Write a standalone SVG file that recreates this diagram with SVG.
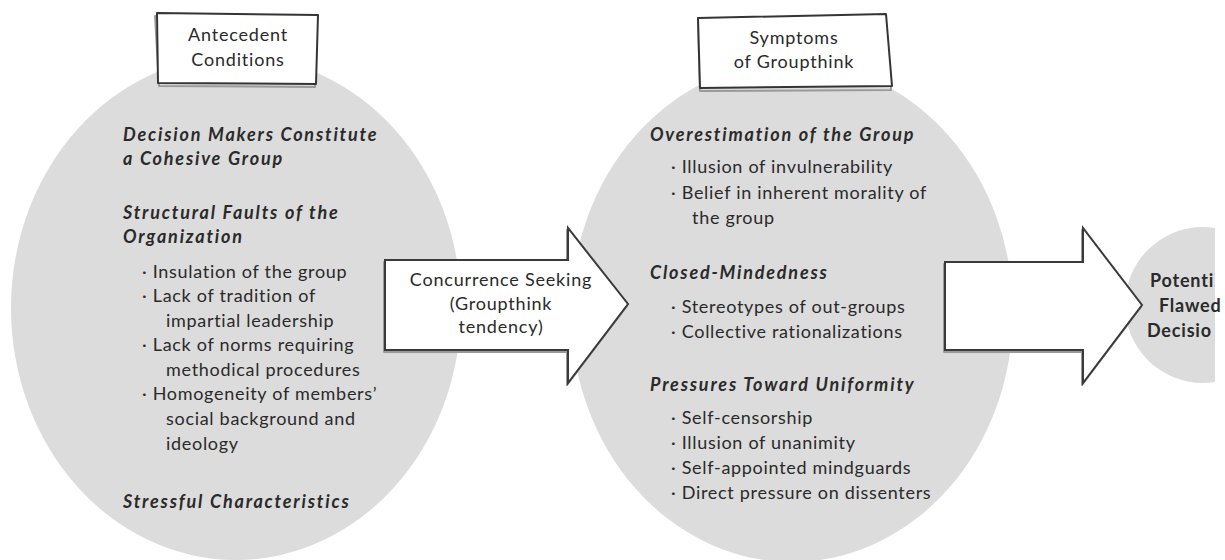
<svg xmlns="http://www.w3.org/2000/svg" width="1225" height="560" viewBox="0 0 1225 560">
<style>
  .ell { fill: #dcdcdc; }
  .box { fill: #ffffff; stroke: #353535; stroke-width: 2; stroke-linejoin: round; }
  .shadow { fill: none; stroke: #9a9a9a; stroke-width: 2; stroke-linejoin: round; }
  .arrow { fill: #ffffff; stroke: #3a3a3a; stroke-width: 2; stroke-linejoin: miter; }
  text { font-family: Lato, "Liberation Sans", sans-serif; fill: #2a2a2a; }
  .t { font-size: 18px; letter-spacing: 0.7px; }
  .h { font-size: 18px; font-weight: bold; font-style: italic; letter-spacing: 1.8px; }
  .c { text-anchor: middle; font-size: 18px; letter-spacing: 0.8px; }
  .b { font-size: 18px; font-weight: bold; letter-spacing: 0.8px; }
</style>
<defs>
  <clipPath id="edge"><rect x="0" y="0" width="1215" height="560"/></clipPath>
</defs>
<rect width="1225" height="560" fill="#ffffff"/>

<g id="antecedent">
  <ellipse class="ell" cx="236" cy="308" rx="225" ry="252"/>
  <polygon class="shadow" points="155,16 316,17 315,87 159,86"/>
  <polygon class="box" points="157,13 318,15 316,84 158,83"/>
  <text class="c" x="238" y="41">Antecedent</text>
  <text class="c" x="238" y="66">Conditions</text>
  <text class="h" x="123" y="141">Decision Makers Constitute</text>
  <text class="h" x="123" y="165">a Cohesive Group</text>
  <text class="h" x="123" y="219">Structural Faults of the</text>
  <text class="h" x="123" y="243">Organization</text>
  <text class="t" x="142" y="278">· Insulation of the group</text>
  <text class="t" x="142" y="302">· Lack of tradition of</text>
  <text class="t" x="166" y="327">impartial leadership</text>
  <text class="t" x="142" y="351">· Lack of norms requiring</text>
  <text class="t" x="166" y="376">methodical procedures</text>
  <text class="t" x="142" y="400">· Homogeneity of members’</text>
  <text class="t" x="166" y="425">social background and</text>
  <text class="t" x="166" y="450">ideology</text>
  <text class="h" x="123" y="508">Stressful Characteristics</text>
</g>

<g id="symptoms">
  <ellipse class="ell" cx="792" cy="312" rx="221" ry="250"/>
  <polygon class="shadow" points="698,21 885,17 891,90 700,91"/>
  <polygon class="box" points="698,18 886,14 892,86 700,88"/>
  <text class="c" x="794" y="44">Symptoms</text>
  <text class="c" x="794" y="68">of Groupthink</text>
  <text class="h" x="650" y="141">Overestimation of the Group</text>
  <text class="t" x="671" y="173">· Illusion of invulnerability</text>
  <text class="t" x="671" y="199">· Belief in inherent morality of</text>
  <text class="t" x="692" y="224">the group</text>
  <text class="h" x="650" y="279">Closed-Mindedness</text>
  <text class="t" x="671" y="313">· Stereotypes of out-groups</text>
  <text class="t" x="671" y="338">· Collective rationalizations</text>
  <text class="h" x="650" y="391">Pressures Toward Uniformity</text>
  <text class="t" x="671" y="424">· Self-censorship</text>
  <text class="t" x="671" y="449">· Illusion of unanimity</text>
  <text class="t" x="671" y="474">· Self-appointed mindguards</text>
  <text class="t" x="671" y="499">· Direct pressure on dissenters</text>
</g>

<g id="outcome">
  <circle class="ell" cx="1203" cy="305" r="78" clip-path="url(#edge)"/>
  <text class="b" x="1150" y="287">Potenti</text>
  <text class="b" x="1159" y="312">Flawed</text>
  <text class="b" x="1147" y="337">Decisio</text>
</g>

<g id="connectors">
  <g id="arrow-concurrence">
    <polygon class="shadow" points="384,262 567,262 567,230 627,306 567,385 567,352 384,352"/>
    <polygon class="arrow" points="385,260 568,260 568,228 628,304 568,383 568,350 385,350"/>
    <text class="c" x="501" y="286">Concurrence Seeking</text>
    <text class="c" x="501" y="310">(Groupthink</text>
    <text class="c" x="501" y="333">tendency)</text>
  </g>
  <g id="arrow-outcome">
    <polygon class="shadow" points="944,264 1082,264 1082,230 1141,307 1082,385 1082,352 944,352"/>
    <polygon class="arrow" points="945,262 1083,262 1083,228 1142,305 1083,383 1083,350 945,350"/>
  </g>
</g>
</svg>
